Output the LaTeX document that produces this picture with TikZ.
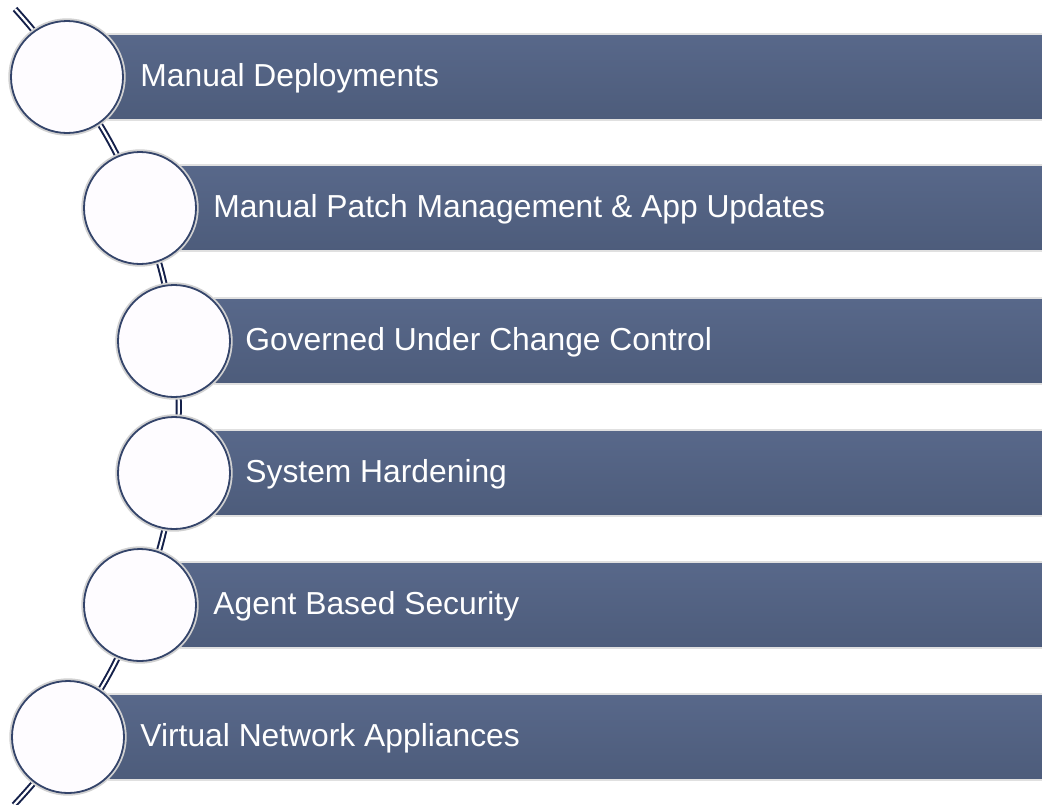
\documentclass[tikz,border=0pt]{standalone}
\usepackage{fontspec}
\setmainfont{Liberation Sans}
\definecolor{barTop}{HTML}{58688A}
\definecolor{barBot}{HTML}{4D5C7B}
\definecolor{ringCol}{HTML}{34446A}
\definecolor{spineCol}{HTML}{14204A}
\definecolor{discFill}{HTML}{FEFCFF}
\tikzset{
  bar/.style={rectangle, inner sep=0pt, minimum height=43pt, anchor=west,
    top color=barTop, bottom color=barBot, draw=black!12, line width=0.6pt},
  disc/.style={circle, inner sep=0pt, minimum size=56pt, fill=discFill,
    draw=ringCol, line width=0.9pt},
  halo/.style={circle, inner sep=0pt, minimum size=57.5pt, draw=black!18, line width=1.2pt},
  lbl/.style={anchor=base west, text=white, font=\fontsize{15.9}{19}\selectfont, inner sep=0pt},
  spine/.style={draw=spineCol, line width=1pt, double=white, double distance=1.1pt}
}
\begin{document}
\begin{tikzpicture}[x=0.5pt, y=-0.5pt]
\useasboundingbox (0,0) rectangle (1042,804);

% bars, one per row
\foreach \i/\cx/\cy in {1/67/77, 2/140/208, 3/174/341, 4/174/473, 5/140/605, 6/68/737}{
  \pgfmathsetmacro{\bw}{(1042-\cx-40)*0.5}
  \node[bar, minimum width=\bw pt] (b\i) at (\cx+40,\cy) {};
}

% curved spine running through the discs
\coordinate (spTop) at (15,9);
\coordinate (spBot) at (14,805);
\coordinate (p1) at (67,77);
\coordinate (p2) at (140,208);
\coordinate (p3) at (174,341);
\coordinate (p4) at (174,473);
\coordinate (p5) at (140,605);
\coordinate (p6) at (68,737);
\draw[spine] (spTop) to[bend left=4.4] (p1) to[bend left=7.9] (p2)
  to[bend left=7.2] (p3) to[bend left=7] (p4) to[bend left=7.2] (p5)
  to[bend left=7.9] (p6) to[bend left=4.4] (spBot);

% discs
\foreach \i in {1,...,6}{
  \node[halo] at (p\i) {};
  \node[disc] (c\i) at (p\i) {};
}

% labels, baselines a little below the bar axis
\node[lbl] (t1) at ([xshift=36.5pt, yshift=-4.8pt]c1.center) {Manual Deployments};
\node[lbl] (t2) at ([xshift=36.5pt, yshift=-4.8pt]c2.center) {Manual Patch Management \& App Updates};
\node[lbl] (t3) at ([xshift=35.5pt, yshift=-4.8pt]c3.center) {Governed Under Change Control};
\node[lbl] (t4) at ([xshift=35.5pt, yshift=-4.8pt]c4.center) {System Hardening};
\node[lbl] (t5) at ([xshift=36.5pt, yshift=-4.8pt]c5.center) {Agent Based Security};
\node[lbl] (t6) at ([xshift=36pt, yshift=-4.8pt]c6.center) {Virtual Network Appliances};
\end{tikzpicture}
\end{document}
